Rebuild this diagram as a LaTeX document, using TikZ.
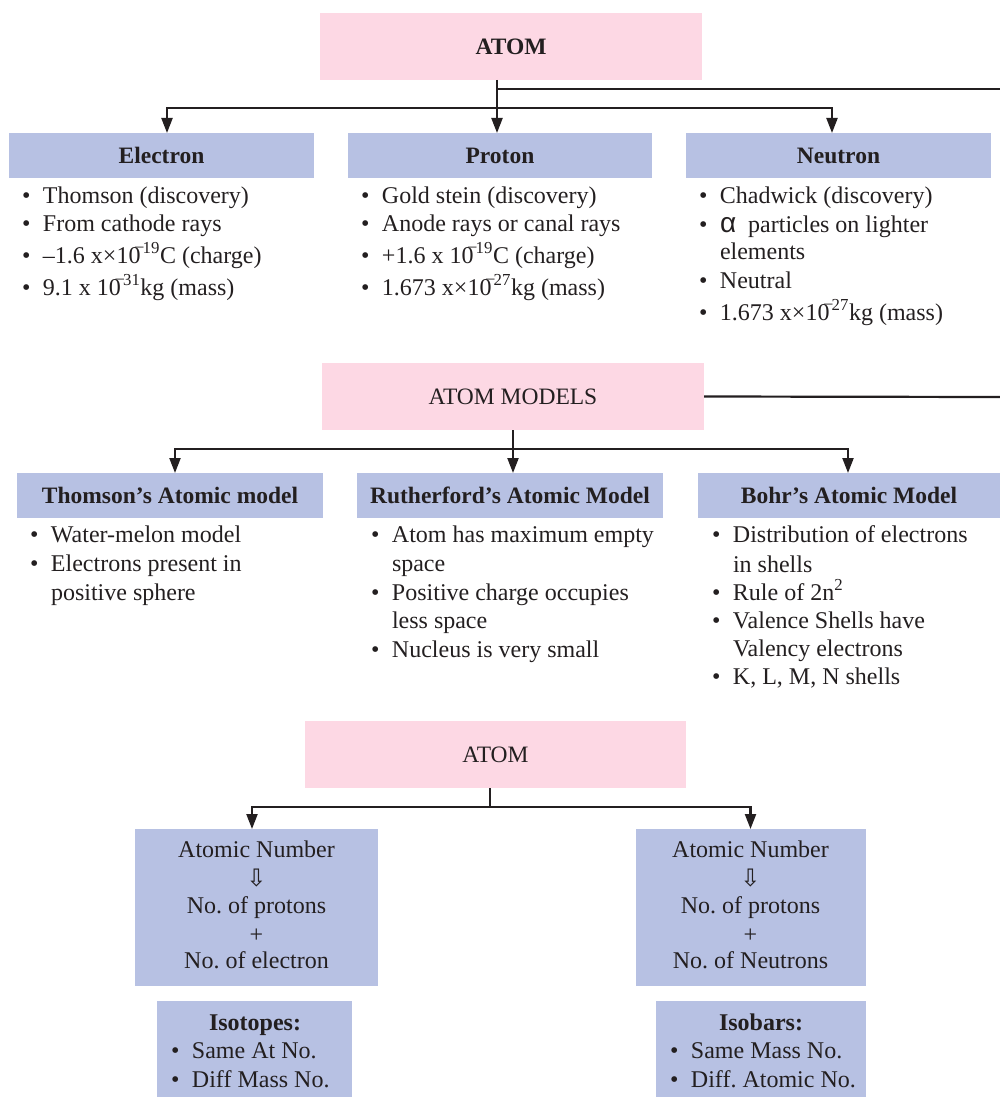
\documentclass[tikz,border=0pt]{standalone}
\usepackage{fontspec}
\setmainfont{Liberation Serif}
\newfontfamily\symfont{DejaVu Sans}
\newfontfamily\grkfont{Liberation Sans}
\usetikzlibrary{arrows.meta}
\definecolor{pinkbox}{RGB}{253,216,228}
\definecolor{bluebox}{RGB}{183,193,227}
\definecolor{ink}{RGB}{35,31,32}
\frenchspacing
\newcommand\bul{\makebox[21pt][l]{\textbullet}}
\newcommand\negsup[1]{\textsuperscript{\kern-0.32em\raisebox{0.12em}{–}\kern-0.05em#1}}
\newcommand\bitem[4]{\node[txt] (#1) at ({#2-21},#3) {\bul #4};}
\newcommand\litem[4]{\node[txt] (#1) at (#2,#3) {#4};}
\begin{document}
\begin{tikzpicture}[x=1pt,y=-1pt,
  every node/.style={inner sep=0pt, outer sep=0pt, text=ink},
  txt/.style={font=\fontsize{24}{28}\selectfont, anchor=base west},
  ctr/.style={font=\fontsize{24}{28}\selectfont, anchor=base},
  pbox/.style={fill=pinkbox, font=\fontsize{23.5}{28}\selectfont},
  bbox/.style={fill=bluebox, font=\fontsize{23.5}{28}\selectfont\bfseries},
  conn/.style={draw=ink, line width=2.2pt},
  arr/.style={conn, -{Triangle[length=15pt,width=11pt]}},
]
\useasboundingbox (0,0) rectangle (1000,1097);

% ---------- Section 1 ----------
\node[pbox, minimum width=382pt, minimum height=67pt] (atom1) at (511,46.5) {\textbf{ATOM}};
\node[bbox, minimum width=305pt, minimum height=45pt] (electron) at (161.5,155.5) {Electron};
\node[bbox, minimum width=304pt, minimum height=45pt] (proton) at (500,155.5) {Proton};
\node[bbox, minimum width=305pt, minimum height=45pt] (neutron) at (838.5,155.5) {Neutron};

\coordinate (j1) at (497,108);
\coordinate (r1) at (1000,89);
\draw[conn] (atom1.south -| j1) -- (j1);
\draw[conn] (j1 |- r1) -- (r1);
\draw[arr] (j1) -| ([xshift=5.5pt]electron.north);
\draw[arr] (j1) -- (j1 |- proton.north);
\draw[arr] (j1) -| ([xshift=-6.5pt]neutron.north);

\bitem{e1}{43}{203}{Thomson (discovery)}
\bitem{e2}{43}{231}{From cathode rays}
\bitem{e3}{43}{263}{–1.6 x×10\negsup{19}C (charge)}
\bitem{e4}{43}{295}{9.1 x 10\negsup{31}kg (mass)}

\bitem{p1}{382}{203}{Gold stein (discovery)}
\bitem{p2}{382}{231}{Anode rays or canal rays}
\bitem{p3}{382}{263}{+1.6 x 10\negsup{19}C (charge)}
\bitem{p4}{382}{295}{1.673 x×10\negsup{27}kg (mass)}

\bitem{n1}{720}{203}{Chadwick (discovery)}
\bitem{n2}{720}{232}{{\grkfont\fontsize{28}{28}\selectfont α}\ \ particles on lighter}
\litem{n3}{720}{259}{elements}
\bitem{n4}{720}{288}{Neutral}
\bitem{n5}{720}{320}{1.673 x×10\negsup{27}kg (mass)}

% ---------- Section 2 ----------
\node[pbox, minimum width=382pt, minimum height=67pt] (models) at (513,396.5) {ATOM MODELS};
\node[bbox, minimum width=306pt, minimum height=45pt] (thomson) at (170,495.5) {Thomson’s Atomic model};
\node[bbox, minimum width=306pt, minimum height=45pt] (ruth) at (510,495.5) {Rutherford’s Atomic Model};
\node[bbox, minimum width=302pt, minimum height=45pt] (bohr) at (849,495.5) {Bohr’s Atomic Model};

\coordinate (j2) at (513,449);
\coordinate (r2) at (1000,397);
\draw[conn] (models.east) -- (r2);
\draw[conn] (models.south -| j2) -- (j2);
\draw[arr] (j2) -| ([xshift=5pt]thomson.north);
\draw[arr] (j2) -- (j2 |- ruth.north);
\draw[arr] (j2) -| ([xshift=-1pt]bohr.north);

\bitem{t1}{51}{542}{Water-melon model}
\bitem{t2}{51}{571}{Electrons present in}
\litem{t3}{51}{600}{positive sphere}

\bitem{u1}{392}{542}{Atom has maximum empty}
\litem{u2}{392}{571}{space}
\bitem{u3}{392}{600}{Positive charge occupies}
\litem{u4}{392}{628}{less space}
\bitem{u5}{392}{657}{Nucleus is very small}

\bitem{b1}{733}{542}{Distribution of electrons}
\litem{b2}{733}{572}{in shells}
\bitem{b3}{733}{600}{Rule of 2n\textsuperscript{2}}
\bitem{b4}{733}{628}{Valence Shells have}
\litem{b5}{733}{656}{Valency electrons}
\bitem{b6}{733}{684}{K, L, M, N shells}

% ---------- Section 3 ----------
\node[pbox, minimum width=381pt, minimum height=67pt] (atom3) at (495.5,754.5) {ATOM};
\node[fill=bluebox, minimum width=243pt, minimum height=157pt] (left) at (256.5,907.5) {};
\node[fill=bluebox, minimum width=230pt, minimum height=157pt] (right) at (750.5,907.5) {};
\node[fill=bluebox, minimum width=195pt, minimum height=96pt] (iso) at (254.5,1049) {};
\node[fill=bluebox, minimum width=210pt, minimum height=96pt] (isb) at (761,1049) {};

\coordinate (j3) at (490,807);
\draw[conn] (atom3.south -| j3) -- (j3);
\draw[arr] (j3) -| ([xshift=-4.5pt]left.north);
\draw[arr] (j3) -| (right.north);

\node[ctr] (l1) at (256.5,857) {Atomic Number};
\node[ctr, font=\symfont\fontsize{24}{24}\selectfont] (l2) at (256.5,886) {⇩};
\node[ctr] (l3) at (256.5,913) {No. of protons};
\node[ctr] (l4) at (256.5,942) {+};
\node[ctr] (l5) at (256.5,968) {No. of electron};

\node[ctr] (q1) at (750.5,857) {Atomic Number};
\node[ctr, font=\symfont\fontsize{24}{24}\selectfont] (q2) at (750.5,886) {⇩};
\node[ctr] (q3) at (750.5,913) {No. of protons};
\node[ctr] (q4) at (750.5,942) {+};
\node[ctr] (q5) at (750.5,968) {No. of Neutrons};

\node[ctr] (i1) at (255,1030) {\textbf{Isotopes:}};
\bitem{i2}{192}{1058}{Same At No.}
\bitem{i3}{192}{1087}{Diff Mass No.}

\node[ctr] (k1) at (761,1030) {\textbf{Isobars:}};
\bitem{k2}{691}{1058}{Same Mass No.}
\bitem{k3}{691}{1087}{Diff. Atomic No.}
\end{tikzpicture}
\end{document}
